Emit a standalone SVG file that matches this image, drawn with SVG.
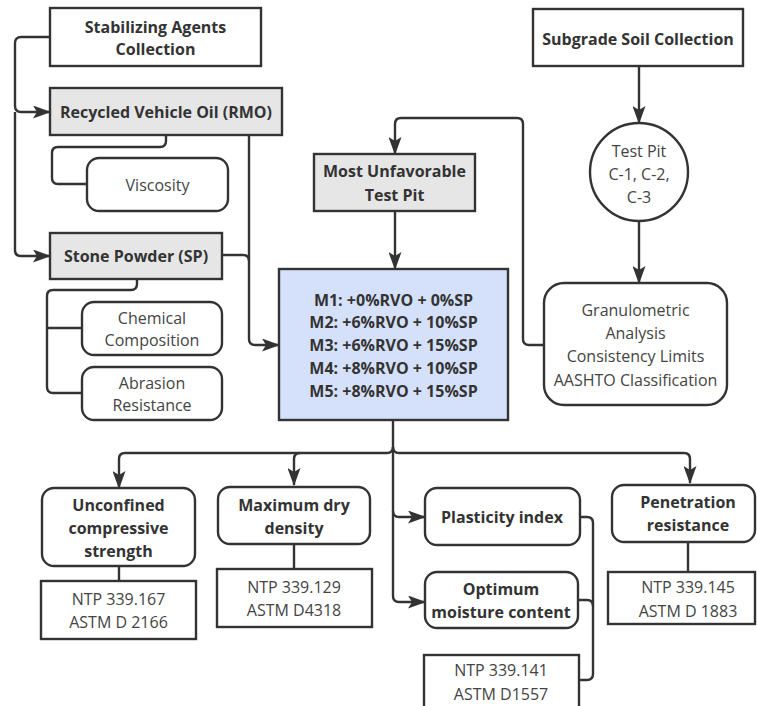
<svg xmlns="http://www.w3.org/2000/svg" width="757" height="706" viewBox="0 0 757 706">
<defs>
<marker id="ah" markerUnits="userSpaceOnUse" markerWidth="18" markerHeight="13" viewBox="0 0 18 13" refX="17" refY="6.5" orient="auto">
<path d="M0,0 L18,6.5 L0,13 L4,6.5 Z" fill="#333"/>
</marker>
<style>
.box{fill:#fff;stroke:#333;stroke-width:2.4}
.gray{fill:#e6e6e6;stroke:#333;stroke-width:2.4}
.blue{fill:#d5e1fa;stroke:#333;stroke-width:2.4}
.c{fill:none;stroke:#333;stroke-width:2.4}
.a{marker-end:url(#ah)}
text{font-family:"Open Sans","DejaVu Sans",sans-serif;font-size:16px;text-anchor:middle;dominant-baseline:central}
.b{font-weight:700;fill:#333}
.r{font-weight:400;fill:#444}
</style>
</defs>
<g id="connectors">
<path class="c a" d="M50,37 H21 Q15,37 15,43 V106 Q15,112 21,112 H50"/>
<path class="c a" d="M15,112 V250 Q15,256 21,256 H50"/>
<path class="c" d="M166,135 V141 Q166,147 160,147 H58 Q52,147 52,153 V178 Q52,184 58,184 H87"/>
<path class="c a" d="M249,135 V339 Q249,345 255,345 H279"/>
<path class="c" d="M222,255 H243 Q249,255 249,261"/>
<path class="c" d="M137,279 V284 Q137,290 131,290 H53 Q47,290 47,296 V387 Q47,393 53,393 H82"/>
<path class="c" d="M47,328 H82"/>
<path class="c a" d="M395,211 V269"/>
<path class="c a" d="M544,345 H529 Q523,345 523,339 V124 Q523,118 517,118 H401 Q395,118 395,124 V154"/>
<path class="c a" d="M639,66 V123"/>
<path class="c a" d="M639,221 V283"/>
<path class="c a" d="M393,420 V447 Q393,453 387,453 H125 Q119,453 119,459 V488"/>
<path class="c a" d="M300,453 Q294,453 294,459 V485"/>
<path class="c a" d="M393,447 Q393,453 399,453 H684 Q690,453 690,459 V483"/>
<path class="c a" d="M393,447 V596 Q393,602 399,602 H425"/>
<path class="c a" d="M393,511 Q393,517 399,517 H425"/>
<path class="c" d="M119,566 V581"/>
<path class="c" d="M294,544 V569"/>
<path class="c" d="M688,542 V572"/>
<path class="c" d="M580,517 H587 Q593,517 593,523 V674 Q593,680 587,680 H579"/>
<path class="c" d="M578,600 H587 Q593,600 593,606"/>
</g>
<g id="stabilizing">
<rect class="box" x="50" y="8" width="211" height="58"/>
<text class="b" x="155.5" y="27">Stabilizing Agents</text>
<text class="b" x="155.5" y="49">Collection</text>
</g>
<g id="rmo">
<rect class="gray" x="50" y="88" width="232" height="47"/>
<text class="b" x="166" y="112">Recycled Vehicle Oil (RMO)</text>
</g>
<g id="viscosity">
<rect class="box" x="87" y="158" width="141" height="53" rx="12"/>
<text class="r" x="157.5" y="185">Viscosity</text>
</g>
<g id="sp">
<rect class="gray" x="50" y="233" width="172" height="46"/>
<text class="b" x="136" y="256">Stone Powder (SP)</text>
</g>
<g id="chemical">
<rect class="box" x="82" y="302" width="140" height="53" rx="12"/>
<text class="r" x="152" y="318">Chemical</text>
<text class="r" x="152" y="340">Composition</text>
</g>
<g id="abrasion">
<rect class="box" x="82" y="367" width="140" height="53" rx="12"/>
<text class="r" x="152" y="383">Abrasion</text>
<text class="r" x="152" y="405">Resistance</text>
</g>
<g id="mixes">
<rect class="blue" x="279" y="269" width="229" height="151"/>
<text class="b" x="393.5" y="300">M1: +0%RVO + 0%SP</text>
<text class="b" x="393.5" y="322">M2: +6%RVO + 10%SP</text>
<text class="b" x="393.5" y="345">M3: +6%RVO + 15%SP</text>
<text class="b" x="393.5" y="368">M4: +8%RVO + 10%SP</text>
<text class="b" x="393.5" y="391">M5: +8%RVO + 15%SP</text>
</g>
<g id="unfavorable">
<rect class="gray" x="314" y="154" width="161" height="57"/>
<text class="b" x="394.5" y="171">Most Unfavorable</text>
<text class="b" x="394.5" y="195">Test Pit</text>
</g>
<g id="subgrade">
<rect class="box" x="533" y="9" width="210" height="57"/>
<text class="b" x="638" y="39">Subgrade Soil Collection</text>
</g>
<g id="testpit">
<circle class="box" cx="639" cy="172" r="49"/>
<text class="r" x="639" y="151">Test Pit</text>
<text class="r" x="639" y="174">C-1, C-2,</text>
<text class="r" x="639" y="197">C-3</text>
</g>
<g id="granulometric">
<rect class="box" x="544" y="283" width="183" height="122" rx="20"/>
<text class="r" x="635.5" y="310">Granulometric</text>
<text class="r" x="635.5" y="333">Analysis</text>
<text class="r" x="635.5" y="356">Consistency Limits</text>
<text class="r" x="635.5" y="380">AASHTO Classification</text>
</g>
<g id="unconfined">
<rect class="box" x="42" y="488" width="153" height="78" rx="12"/>
<text class="b" x="118.5" y="505">Unconfined</text>
<text class="b" x="118.5" y="528">compressive</text>
<text class="b" x="118.5" y="551">strength</text>
</g>
<g id="ntp167">
<rect class="box" x="41" y="581" width="155" height="58"/>
<text class="r" x="118.5" y="599">NTP 339.167</text>
<text class="r" x="118.5" y="622">ASTM D 2166</text>
</g>
<g id="maxdensity">
<rect class="box" x="218" y="487" width="152" height="57" rx="12"/>
<text class="b" x="294" y="505">Maximum dry</text>
<text class="b" x="294" y="528">density</text>
</g>
<g id="ntp129">
<rect class="box" x="217" y="569" width="155" height="58"/>
<text class="r" x="294" y="587">NTP 339.129</text>
<text class="r" x="294" y="610">ASTM D4318</text>
</g>
<g id="plasticity">
<rect class="box" x="425" y="488" width="155" height="57" rx="12"/>
<text class="b" x="502" y="517">Plasticity index</text>
</g>
<g id="optimum">
<rect class="box" x="425" y="572" width="153" height="56" rx="12"/>
<text class="b" x="501" y="589">Optimum</text>
<text class="b" x="501" y="612">moisture content</text>
</g>
<g id="ntp141">
<rect class="box" x="424" y="655" width="155" height="60"/>
<text class="r" x="501" y="670">NTP 339.141</text>
<text class="r" x="501" y="694">ASTM D1557</text>
</g>
<g id="penetration">
<rect class="box" x="612" y="485" width="143" height="57" rx="12"/>
<text class="b" x="688" y="502">Penetration</text>
<text class="b" x="688" y="525">resistance</text>
</g>
<g id="ntp145">
<rect class="box" x="608" y="572" width="147" height="52"/>
<text class="r" x="688" y="587">NTP 339.145</text>
<text class="r" x="688" y="611">ASTM D 1883</text>
</g>
</svg>
